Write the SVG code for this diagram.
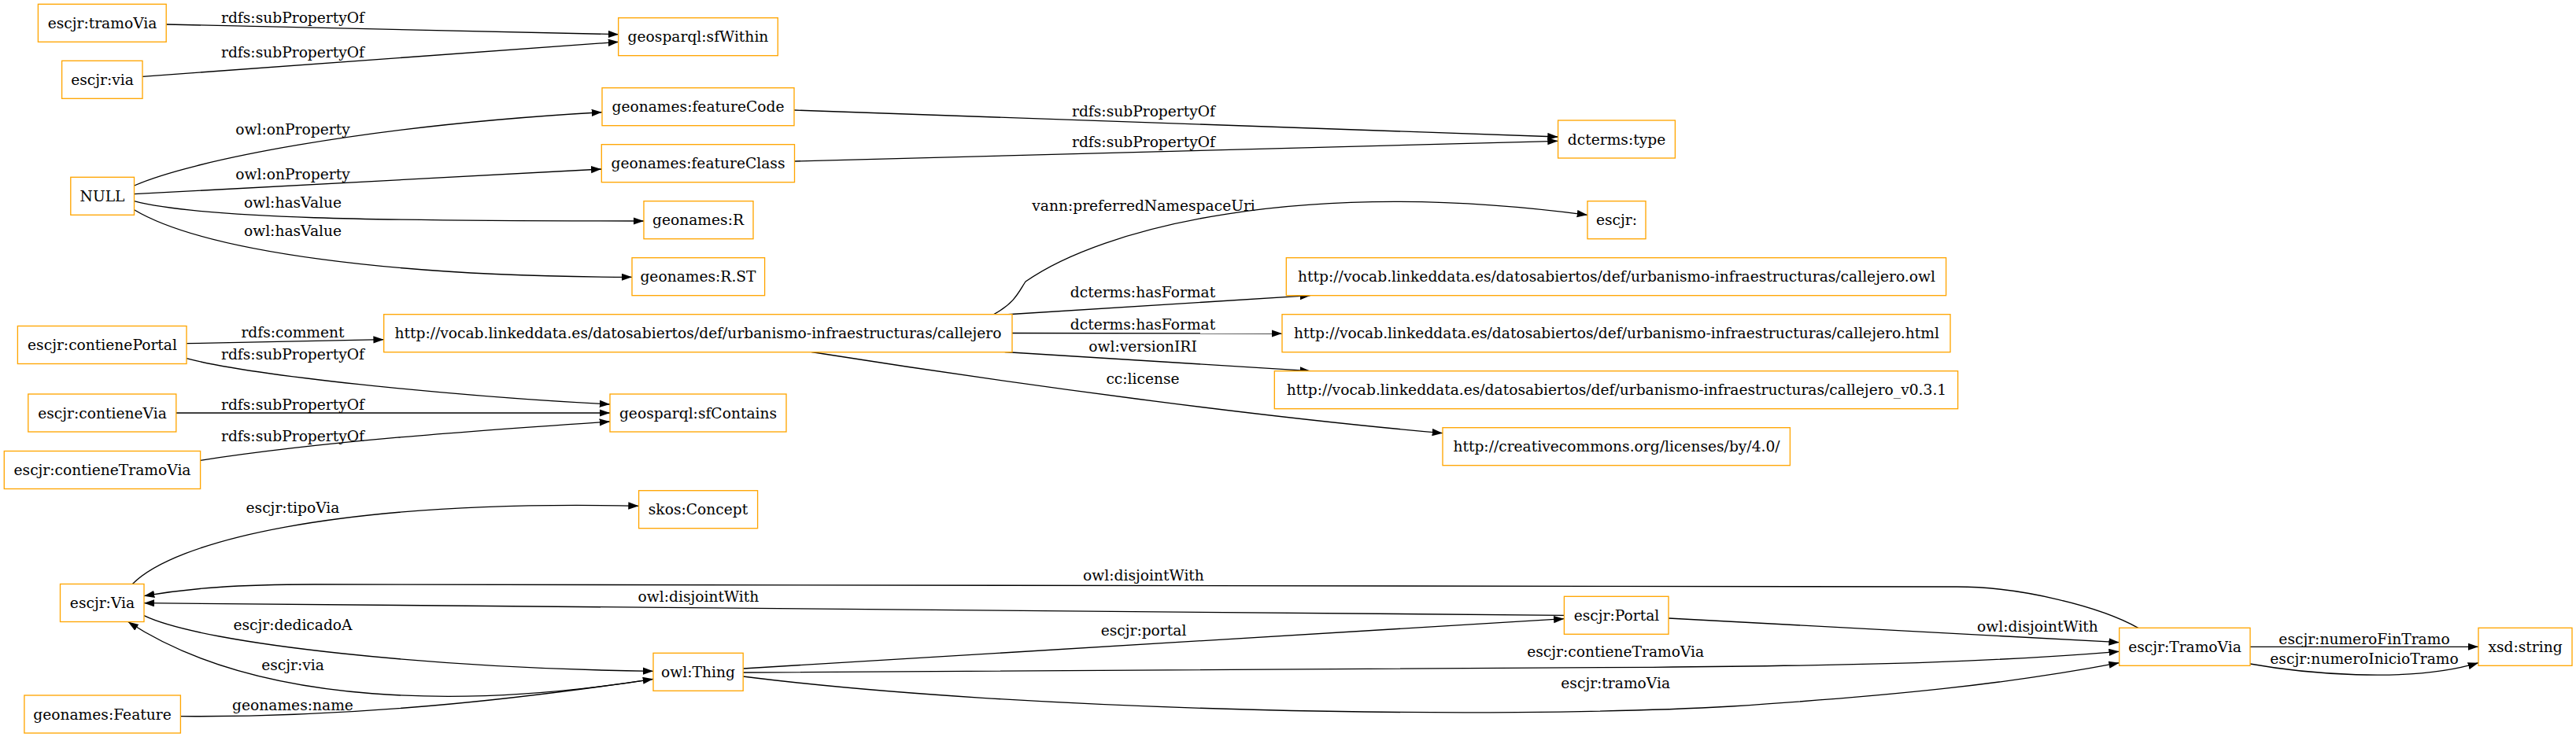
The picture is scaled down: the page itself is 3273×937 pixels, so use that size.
<svg xmlns="http://www.w3.org/2000/svg" width="3273" height="937" viewBox="0 0 3273 937">
<style>
.n rect{fill:#fff;stroke:#ffa500;stroke-width:1.33}
text{font-family:"DejaVu Serif",serif;font-size:18.67px;fill:#000;text-anchor:middle}
.e path{fill:none;stroke:#000;stroke-width:1.33;marker-end:url(#ah)}
</style>
<defs>
<marker id="ah" markerUnits="userSpaceOnUse" markerWidth="14" markerHeight="10" refX="13.3" refY="4.67" orient="auto">
<path d="M0,0 L13.3,4.67 L0,9.33 z" fill="#000"/>
</marker>
</defs>
<rect width="3273" height="937" fill="#fff"/>
<g id="connectors" class="e">
<path d="M211.2,31 L786,43.7"/>
<path d="M181,97.3 L786,53.3"/>
<path d="M170.5,236 C240,205 460,160 765,142.7"/>
<path d="M170.5,246.7 C350,236 550,226 764.3,215"/>
<path d="M170.5,255.7 C255,278 480,281 818,281"/>
<path d="M170.5,266.7 C260,320 500,352 803,352.3"/>
<path d="M1009,140 L1979.6,174"/>
<path d="M1009.5,205 L1979.6,179.3"/>
<path d="M1262,400 C1290,385 1295,370 1303,358 C1400,290 1650,225 2017,273.3"/>
<path d="M1276.7,400 L1665,375.7"/>
<path d="M1286,423.5 L1629,424"/>
<path d="M1276.7,447.5 L1665,471.7"/>
<path d="M1031,447.5 C1300,490 1600,530 1833,550.7"/>
<path d="M237,436.7 L487.7,431.7"/>
<path d="M237,455.7 C330,480 600,505 775,514"/>
<path d="M223.8,525 L775,525"/>
<path d="M254.6,585.3 C420,560 600,548 775,536"/>
<path d="M168.4,742.5 C220,690 420,635 811.6,643.3"/>
<path d="M2716.7,798.3 C2670,772 2570,746 2486.7,746 L400,743 C300,743 240,748 183,757.7"/>
<path d="M1987.4,782.3 L183,766.7"/>
<path d="M183,782.7 C260,820 560,850 830,853.3"/>
<path d="M830,863.3 C600,900 330,900 162.7,790.5"/>
<path d="M229.4,910.7 C450,912 650,890 830,863.3"/>
<path d="M944.2,850 L1987.4,786.7"/>
<path d="M944.2,855 L2100,848.3 C2400,846 2550,840 2692.7,828.3"/>
<path d="M944.2,860 C1300,905 1900,915 2200,898 C2400,885 2550,870 2692.7,842.7"/>
<path d="M2120,786 L2692.7,816.7"/>
<path d="M2859,822.3 L3149,822.3"/>
<path d="M2859,844 C2920,855 3060,870 3149,842.7"/>
<text x="372" y="29.2">rdfs:subPropertyOf</text>
<text x="372" y="72.5">rdfs:subPropertyOf</text>
<text x="372" y="170.5">owl:onProperty</text>
<text x="372" y="227.5">owl:onProperty</text>
<text x="372" y="263.5">owl:hasValue</text>
<text x="372" y="299.5">owl:hasValue</text>
<text x="1453" y="148.2">rdfs:subPropertyOf</text>
<text x="1453" y="186.5">rdfs:subPropertyOf</text>
<text x="1453" y="268.2">vann:preferredNamespaceUri</text>
<text x="1452" y="378.2">dcterms:hasFormat</text>
<text x="1452" y="419.2">dcterms:hasFormat</text>
<text x="1452" y="447.2">owl:versionIRI</text>
<text x="1452" y="487.5">cc:license</text>
<text x="372" y="428.8">rdfs:comment</text>
<text x="372" y="457.2">rdfs:subPropertyOf</text>
<text x="372" y="520.5">rdfs:subPropertyOf</text>
<text x="372" y="560.5">rdfs:subPropertyOf</text>
<text x="372" y="652.2">escjr:tipoVia</text>
<text x="1453" y="738.2">owl:disjointWith</text>
<text x="887.4" y="764.8">owl:disjointWith</text>
<text x="372" y="800.8">escjr:dedicadoA</text>
<text x="372" y="852.2">escjr:via</text>
<text x="372" y="903.2">geonames:name</text>
<text x="1453" y="807.5">escjr:portal</text>
<text x="2052.7" y="834.8">escjr:contieneTramoVia</text>
<text x="2052.7" y="874.8">escjr:tramoVia</text>
<text x="2589" y="803.2">owl:disjointWith</text>
<text x="3004" y="818.8">escjr:numeroFinTramo</text>
<text x="3004" y="843.8">escjr:numeroInicioTramo</text>
</g>
<g id="n_tramoVia" class="n"><rect x="48.4" y="5.3" width="162.8" height="48"/><text x="130" y="35.8">escjr:tramoVia</text></g>
<g id="n_via" class="n"><rect x="78.6" y="77.3" width="102.4" height="48"/><text x="130" y="107.8">escjr:via</text></g>
<g id="n_null" class="n"><rect x="89.8" y="225.3" width="80.7" height="48"/><text x="130" y="255.8">NULL</text></g>
<g id="n_contienePortal" class="n"><rect x="22.4" y="414.5" width="214.6" height="48"/><text x="130" y="445">escjr:contienePortal</text></g>
<g id="n_contieneVia" class="n"><rect x="35.8" y="501" width="188" height="48"/><text x="130" y="531.5">escjr:contieneVia</text></g>
<g id="n_contieneTramoVia" class="n"><rect x="5.3" y="573.5" width="249.3" height="48"/><text x="130" y="604">escjr:contieneTramoVia</text></g>
<g id="n_Via" class="n"><rect x="76.5" y="742.5" width="106.5" height="48"/><text x="130" y="773">escjr:Via</text></g>
<g id="n_Feature" class="n"><rect x="30.9" y="884" width="198.5" height="48"/><text x="130" y="914.5">geonames:Feature</text></g>
<g id="n_sfWithin" class="n"><rect x="785.7" y="22.7" width="202.6" height="48"/><text x="887" y="53.2">geosparql:sfWithin</text></g>
<g id="n_featureCode" class="n"><rect x="765" y="111.7" width="244" height="48"/><text x="887" y="142.2">geonames:featureCode</text></g>
<g id="n_featureClass" class="n"><rect x="764.3" y="183.7" width="245.2" height="48"/><text x="887" y="214.2">geonames:featureClass</text></g>
<g id="n_R" class="n"><rect x="818" y="255.7" width="139" height="48"/><text x="887" y="286.2">geonames:R</text></g>
<g id="n_RST" class="n"><rect x="803" y="327.7" width="168.6" height="48"/><text x="887" y="358.2">geonames:R.ST</text></g>
<g id="n_callejero" class="n"><rect x="487.7" y="399.7" width="798.3" height="48"/><text x="887" y="430.2">http://vocab.linkeddata.es/datosabiertos/def/urbanismo-infraestructuras/callejero</text></g>
<g id="n_sfContains" class="n"><rect x="775" y="501" width="224" height="48"/><text x="887" y="531.5">geosparql:sfContains</text></g>
<g id="n_Concept" class="n"><rect x="811.6" y="623.7" width="151" height="48"/><text x="887" y="654.2">skos:Concept</text></g>
<g id="n_Thing" class="n"><rect x="830" y="830.3" width="114.2" height="48"/><text x="887" y="860.8">owl:Thing</text></g>
<g id="n_type" class="n"><rect x="1979.6" y="153" width="148.8" height="48"/><text x="2054" y="183.5">dcterms:type</text></g>
<g id="n_escjr" class="n"><rect x="2017" y="255.7" width="74" height="48"/><text x="2054" y="286.2">escjr:</text></g>
<g id="n_owl" class="n"><rect x="1634.3" y="327.7" width="838.3" height="48"/><text x="2054" y="358.2">http://vocab.linkeddata.es/datosabiertos/def/urbanismo-infraestructuras/callejero.owl</text></g>
<g id="n_html" class="n"><rect x="1629" y="399.7" width="849" height="48"/><text x="2054" y="430.2">http://vocab.linkeddata.es/datosabiertos/def/urbanismo-infraestructuras/callejero.html</text></g>
<g id="n_version" class="n"><rect x="1619.3" y="471.7" width="868.3" height="48"/><text x="2054" y="502.2">http://vocab.linkeddata.es/datosabiertos/def/urbanismo-infraestructuras/callejero_v0.3.1</text></g>
<g id="n_license" class="n"><rect x="1833" y="543.7" width="441.4" height="48"/><text x="2054" y="574.2">http://creativecommons.org/licenses/by/4.0/</text></g>
<g id="n_Portal" class="n"><rect x="1987.4" y="758.3" width="132.6" height="48"/><text x="2054" y="788.8">escjr:Portal</text></g>
<g id="n_TramoVia" class="n"><rect x="2692.7" y="798.3" width="166.3" height="48"/><text x="2776" y="828.8">escjr:TramoVia</text></g>
<g id="n_string" class="n"><rect x="3149" y="798.3" width="119" height="48"/><text x="3208.5" y="828.8">xsd:string</text></g>
</svg>
